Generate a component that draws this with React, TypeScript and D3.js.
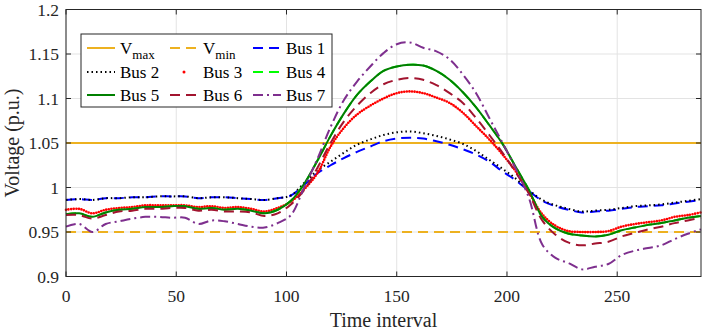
import React, { useRef, useEffect } from "react";
import * as d3 from "d3";

// sample times (time interval index)
const timeSteps = [
  0, 6, 12, 18, 24, 30, 36, 42, 48, 54, 60, 66, 72, 78, 84, 90, 96, 102, 108, 114, 120, 126, 132, 138, 144,
  150, 156, 162, 168, 174, 180, 186, 192, 198, 204, 210, 216, 222, 228, 234, 240, 246, 252, 258, 264, 270,
  276, 282, 288,
];

const bus1 = [
  0.986, 0.987, 0.986, 0.988, 0.988, 0.989, 0.989, 0.99, 0.99, 0.99, 0.988, 0.989, 0.989, 0.988, 0.987, 0.986,
  0.988, 0.991, 1.003, 1.016, 1.025, 1.033, 1.04, 1.046, 1.052, 1.055, 1.056, 1.055, 1.052, 1.048, 1.043, 1.037,
  1.029, 1.018, 1.008, 0.996, 0.985, 0.979, 0.975, 0.972, 0.973, 0.974, 0.976, 0.978, 0.979, 0.98, 0.982, 0.984,
  0.986,
];
const bus2 = [
  0.986, 0.987, 0.986, 0.988, 0.988, 0.989, 0.989, 0.99, 0.99, 0.99, 0.988, 0.989, 0.989, 0.988, 0.987, 0.986,
  0.988, 0.991, 1.005, 1.019, 1.029, 1.039, 1.048, 1.054, 1.059, 1.062, 1.063, 1.061, 1.058, 1.054, 1.049, 1.041,
  1.031, 1.021, 1.01, 0.997, 0.986, 0.98, 0.976, 0.973, 0.974, 0.975, 0.977, 0.979, 0.98, 0.981, 0.983, 0.985,
  0.987,
];
const bus3 = [
  0.975, 0.976, 0.971, 0.975, 0.977, 0.978, 0.98, 0.98, 0.98, 0.98, 0.978, 0.979, 0.977, 0.978, 0.976, 0.973,
  0.977, 0.984, 0.998, 1.016, 1.046, 1.067, 1.082, 1.092, 1.1, 1.106, 1.108, 1.106, 1.101, 1.095, 1.084, 1.069,
  1.054, 1.037, 1.018, 0.994, 0.97, 0.957, 0.951, 0.95, 0.95, 0.951, 0.956, 0.959, 0.961, 0.963, 0.967, 0.969,
  0.972,
];
const bus4 = [
  0.97, 0.971, 0.967, 0.972, 0.975, 0.976, 0.978, 0.978, 0.979, 0.979, 0.976, 0.977, 0.975, 0.976, 0.974, 0.971,
  0.975, 0.985, 1.004, 1.03, 1.058, 1.083, 1.104, 1.119, 1.131, 1.136, 1.138, 1.137, 1.131, 1.121, 1.107, 1.09,
  1.07, 1.049, 1.023, 0.997, 0.967, 0.954, 0.948, 0.946, 0.945, 0.947, 0.952, 0.955, 0.958, 0.96, 0.963, 0.966,
  0.968,
];
const bus5 = [
  0.97, 0.971, 0.967, 0.972, 0.975, 0.976, 0.978, 0.978, 0.979, 0.979, 0.976, 0.977, 0.975, 0.976, 0.974, 0.971,
  0.975, 0.985, 1.004, 1.03, 1.058, 1.083, 1.104, 1.119, 1.131, 1.136, 1.138, 1.137, 1.131, 1.121, 1.107, 1.09,
  1.07, 1.049, 1.023, 0.997, 0.967, 0.954, 0.948, 0.946, 0.945, 0.947, 0.952, 0.955, 0.958, 0.96, 0.963, 0.966,
  0.968,
];
const bus6 = [
  0.969, 0.969, 0.965, 0.969, 0.973, 0.974, 0.976, 0.976, 0.977, 0.977, 0.974, 0.975, 0.973, 0.973, 0.972, 0.968,
  0.971, 0.981, 0.997, 1.022, 1.05, 1.074, 1.092, 1.106, 1.116, 1.121, 1.123, 1.121, 1.115, 1.106, 1.095, 1.078,
  1.059, 1.039, 1.017, 0.993, 0.963, 0.947, 0.938, 0.935, 0.937, 0.939, 0.945, 0.949, 0.953, 0.956, 0.96, 0.963,
  0.966,
];
const bus7 = [
  0.956, 0.959, 0.95, 0.959, 0.962, 0.965, 0.967, 0.967, 0.966, 0.966, 0.959, 0.963, 0.962, 0.959, 0.956, 0.955,
  0.96, 0.969, 1.0, 1.032, 1.068, 1.098, 1.119, 1.136, 1.151, 1.161, 1.163, 1.157, 1.153, 1.144, 1.127, 1.106,
  1.078, 1.05, 1.021, 0.988, 0.936, 0.921, 0.915, 0.908, 0.911, 0.914, 0.924, 0.929, 0.932, 0.935, 0.942, 0.948,
  0.953,
];

const vMax = 1.05;
const vMin = 0.95;
const xTicks = [0, 50, 100, 150, 200, 250];
const yTicks = [0.9, 0.95, 1, 1.05, 1.1, 1.15, 1.2];

const ORANGE = "#EDB120";
const FONT = "'Liberation Serif', 'Times New Roman', serif";

// line styles (kept apart from the data)
const busStyles = [
  { name: "Bus 1", values: bus1, color: "#0000FF", dash: "10,6", cap: "butt", width: 2 },
  { name: "Bus 2", values: bus2, color: "#000000", dash: "1.5,3", cap: "butt", width: 2 },
  { name: "Bus 3", values: bus3, color: "#FF0000", dash: "0,2.6", cap: "round", width: 2.6, marker: true },
  { name: "Bus 4", values: bus4, color: "#00FF00", dash: "10,6", cap: "butt", width: 2 },
  { name: "Bus 5", values: bus5, color: "#008000", dash: null, cap: "butt", width: 2 },
  { name: "Bus 6", values: bus6, color: "#A2142F", dash: "10,6", cap: "butt", width: 2 },
  { name: "Bus 7", values: bus7, color: "#7E2F8E", dash: "10,4,2,4", cap: "butt", width: 2 },
];

export default function App() {
  const svgRef = useRef<SVGSVGElement>(null);

  useEffect(() => {
    const W = 706;
    const H = 331;
    const margin = { top: 9.5, right: 5, bottom: 54.5, left: 66 };
    const width = W - margin.left - margin.right;
    const height = H - margin.top - margin.bottom;

    const svg = d3.select(svgRef.current).attr("width", W).attr("height", H);
    svg.selectAll("*").remove();

    const g = svg.append("g").attr("transform", `translate(${margin.left},${margin.top})`);

    const x = d3.scaleLinear().domain([0, 288]).range([0, width]);
    const y = d3.scaleLinear().domain([0.9, 1.2]).range([height, 0]);

    // grid
    g.append("g")
      .selectAll("line")
      .data(xTicks)
      .enter()
      .append("line")
      .attr("x1", (d) => x(d))
      .attr("x2", (d) => x(d))
      .attr("y1", 0)
      .attr("y2", height)
      .attr("stroke", "#e3e3e3");
    g.append("g")
      .selectAll("line")
      .data(yTicks)
      .enter()
      .append("line")
      .attr("x1", 0)
      .attr("x2", width)
      .attr("y1", (d) => y(d))
      .attr("y2", (d) => y(d))
      .attr("stroke", "#e3e3e3");

    // voltage limits
    g.append("line")
      .attr("x1", 0)
      .attr("x2", width)
      .attr("y1", y(vMax))
      .attr("y2", y(vMax))
      .attr("stroke", ORANGE)
      .attr("stroke-width", 2);
    g.append("line")
      .attr("x1", 0)
      .attr("x2", width)
      .attr("y1", y(vMin))
      .attr("y2", y(vMin))
      .attr("stroke", ORANGE)
      .attr("stroke-width", 2)
      .attr("stroke-dasharray", "10,6");

    const line = d3
      .line<number>()
      .x((_, i) => x(timeSteps[i]))
      .y((d) => y(d))
      .curve(d3.curveCatmullRom.alpha(0.5));

    busStyles.forEach((s) => {
      g.append("path")
        .datum(s.values)
        .attr("fill", "none")
        .attr("stroke", s.color)
        .attr("stroke-width", s.width)
        .attr("stroke-linecap", s.cap)
        .attr("stroke-dasharray", s.dash)
        .attr("d", line);
    });

    // box + ticks
    const axisColor = "#262626";
    g.append("rect")
      .attr("width", width)
      .attr("height", height)
      .attr("fill", "none")
      .attr("stroke", axisColor)
      .attr("stroke-width", 1);
    const tl = 5;
    xTicks.forEach((t) => {
      g.append("line").attr("x1", x(t)).attr("x2", x(t)).attr("y1", height).attr("y2", height - tl).attr("stroke", axisColor);
      g.append("line").attr("x1", x(t)).attr("x2", x(t)).attr("y1", 0).attr("y2", tl).attr("stroke", axisColor);
      g.append("text")
        .attr("x", x(t))
        .attr("y", height + 25)
        .attr("text-anchor", "middle")
        .attr("font-family", FONT)
        .attr("font-size", 17.5)
        .attr("fill", axisColor)
        .text(t);
    });
    yTicks.forEach((t) => {
      g.append("line").attr("x1", 0).attr("x2", tl).attr("y1", y(t)).attr("y2", y(t)).attr("stroke", axisColor);
      g.append("line").attr("x1", width).attr("x2", width - tl).attr("y1", y(t)).attr("y2", y(t)).attr("stroke", axisColor);
      g.append("text")
        .attr("x", -7)
        .attr("y", y(t) + 6)
        .attr("text-anchor", "end")
        .attr("font-family", FONT)
        .attr("font-size", 17.5)
        .attr("fill", axisColor)
        .text(String(t));
    });

    // axis titles
    svg.append("text")
      .attr("x", margin.left + width / 2)
      .attr("y", 327)
      .attr("text-anchor", "middle")
      .attr("font-family", FONT)
      .attr("font-size", 20)
      .attr("fill", axisColor)
      .text("Time interval");
    svg.append("text")
      .attr("transform", `translate(19,${margin.top + height / 2}) rotate(-90)`)
      .attr("text-anchor", "middle")
      .attr("font-family", FONT)
      .attr("font-size", 20)
      .attr("fill", axisColor)
      .text("Voltage (p.u.)");

    // legend
    const leg = svg.append("g").attr("transform", "translate(81,34)");
    leg.append("rect")
      .attr("width", 251)
      .attr("height", 73)
      .attr("fill", "white")
      .attr("stroke", axisColor)
      .attr("stroke-width", 1);

    const entries = [
      { label: "V", sub: "max", color: ORANGE, dash: null, width: 2 },
      { label: "V", sub: "min", color: ORANGE, dash: "10,6", width: 2 },
      ...busStyles.map((s) => ({ label: s.name, sub: null, color: s.color, dash: s.dash, width: s.width, marker: s.marker })),
    ];
    const colX = [6, 89, 172];
    const rowY = [14, 38, 61];
    entries.forEach((e: any, i) => {
      const cx = colX[i % 3];
      const cy = rowY[Math.floor(i / 3)];
      if (e.marker) {
        leg.append("circle").attr("cx", cx + 14).attr("cy", cy).attr("r", 1.5).attr("fill", e.color);
      } else {
        leg.append("line")
          .attr("x1", cx)
          .attr("x2", cx + 28)
          .attr("y1", cy)
          .attr("y2", cy)
          .attr("stroke", e.color)
          .attr("stroke-width", e.width)
          .attr("stroke-dasharray", e.dash);
      }
      const txt = leg.append("text")
        .attr("x", cx + 33)
        .attr("y", cy + 6)
        .attr("font-family", FONT)
        .attr("font-size", 17)
        .attr("fill", "#000")
        .text(e.label);
      if (e.sub) {
        txt.append("tspan").attr("font-size", 13).attr("dy", 5).text(e.sub);
      }
    });
  }, []);

  return <svg ref={svgRef} style={{ position: "absolute", left: 0, top: 0 }}></svg>;
}
